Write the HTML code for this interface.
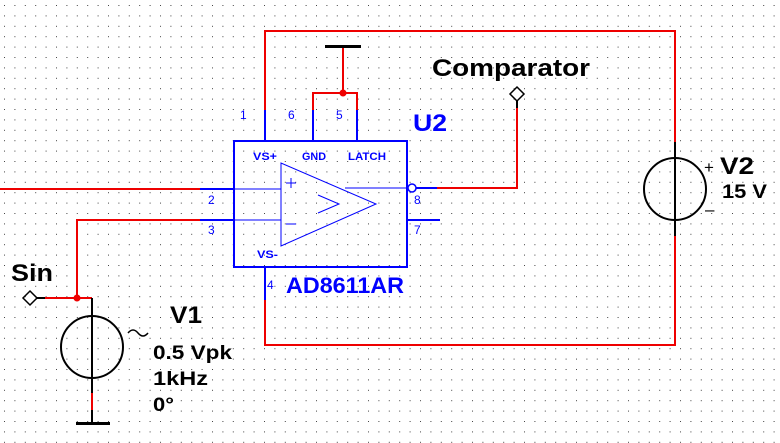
<!DOCTYPE html>
<html><head><meta charset="utf-8"><style>
html,body{margin:0;padding:0;background:#fff}
svg{display:block}
text{font-family:"Liberation Sans",Arial,sans-serif;font-weight:bold}
</style></head><body>
<svg width="780" height="443" viewBox="0 0 780 443" xmlns="http://www.w3.org/2000/svg">
<defs><pattern id="g" width="10.4" height="10.4" patternUnits="userSpaceOnUse" x="4" y="5"><rect x="0" y="0" width="1" height="1" fill="#444"/></pattern></defs>
<rect width="780" height="443" fill="url(#g)"/>
<g fill="none" stroke-width="2">
<path d="M265 110V31H675V142" stroke="#e00"/>
<path d="M675 236V345H265V300" stroke="#e00"/>
<path d="M343 46V93M313 110V93H357V110" stroke="#e00"/>
<path d="M0 189H200" stroke="#e00"/>
<path d="M200 220H77V298" stroke="#e00"/>
<path d="M45 298H92" stroke="#e00"/>
<path d="M437 188H517V108" stroke="#e00"/>
<path d="M92 393V410" stroke="#e00"/>
<path d="M675 142V236M92 298V393M92 410V422M517 108V101M36 298H45" stroke="#000"/>
<circle cx="675" cy="189" r="31" stroke="#000"/>
<circle cx="92" cy="347" r="31" stroke="#000"/>
<path d="M128 333q5-6 10 0t10 0" stroke="#000" stroke-width="1.5"/>
<path d="M517 87l7 7-7 7-7-7z" stroke="#000" stroke-width="1.5"/>
<path d="M30 291l7 7-7 7-7-7z" stroke="#000" stroke-width="1.5"/>
<path d="M265 110V141M313 110V141M357 110V141M265 267V300M200 189H234M200 220H234M416 188H437M407 220H440" stroke="#00f"/>
<rect x="234" y="141" width="173" height="126" stroke="#00f"/>
<g stroke="#00f" stroke-width="1">
<path d="M281 163V246L376 204Z"/>
<path d="M318 195L339 204L318 213"/>
<path d="M234 189H281M234 220H281M345 188H408"/>
<path d="M286 183h10M291 178v10M286 224h10"/>
</g>
<circle cx="412" cy="188" r="4" stroke="#00f" stroke-width="1.5"/>
</g>
<rect x="325" y="45" width="36" height="3" fill="#000"/>
<rect x="76" y="422" width="34" height="3" fill="#000"/>
<circle cx="343" cy="93" r="3.5" fill="#e00"/>
<circle cx="77" cy="298" r="3.5" fill="#e00"/>
<g fill="#00f">
<text x="413" y="131" font-size="24" textLength="34" lengthAdjust="spacingAndGlyphs">U2</text>
<text x="286" y="293" font-size="22" textLength="118" lengthAdjust="spacingAndGlyphs">AD8611AR</text>
<g font-size="12">
<text x="240" y="119" style="font-weight:normal">1</text>
<text x="288" y="119" style="font-weight:normal">6</text>
<text x="336" y="119" style="font-weight:normal">5</text>
<text x="208" y="204" style="font-weight:normal">2</text>
<text x="208" y="234" style="font-weight:normal">3</text>
<text x="414" y="204" style="font-weight:normal">8</text>
<text x="414" y="234" style="font-weight:normal">7</text>
<text x="267" y="289" style="font-weight:normal">4</text>
</g>
<g font-size="11">
<text x="253" y="160" textLength="24" lengthAdjust="spacingAndGlyphs">VS+</text>
<text x="302" y="160" textLength="24" lengthAdjust="spacingAndGlyphs">GND</text>
<text x="348" y="160" textLength="38" lengthAdjust="spacingAndGlyphs">LATCH</text>
<text x="257" y="258" textLength="21" lengthAdjust="spacingAndGlyphs">VS-</text>
</g>
</g>
<g fill="#000">
<text x="432" y="76" font-size="24" textLength="158" lengthAdjust="spacingAndGlyphs">Comparator</text>
<text x="720" y="174" font-size="24" textLength="34" lengthAdjust="spacingAndGlyphs">V2</text>
<text x="704" y="173" font-size="17" style="font-weight:normal">+</text>
<text x="722" y="198" font-size="19" textLength="45" lengthAdjust="spacingAndGlyphs">15 V</text>
<text x="705" y="215" font-size="17" style="font-weight:normal">–</text>
<text x="11" y="281" font-size="24" textLength="42" lengthAdjust="spacingAndGlyphs">Sin</text>
<text x="170" y="323" font-size="24" textLength="32" lengthAdjust="spacingAndGlyphs">V1</text>
<text x="153" y="359" font-size="19" textLength="79" lengthAdjust="spacingAndGlyphs">0.5 Vpk</text>
<text x="153" y="385" font-size="19" textLength="55" lengthAdjust="spacingAndGlyphs">1kHz</text>
<text x="153" y="411" font-size="19" textLength="21" lengthAdjust="spacingAndGlyphs">0°</text>
</g>
</svg>
</body></html>
